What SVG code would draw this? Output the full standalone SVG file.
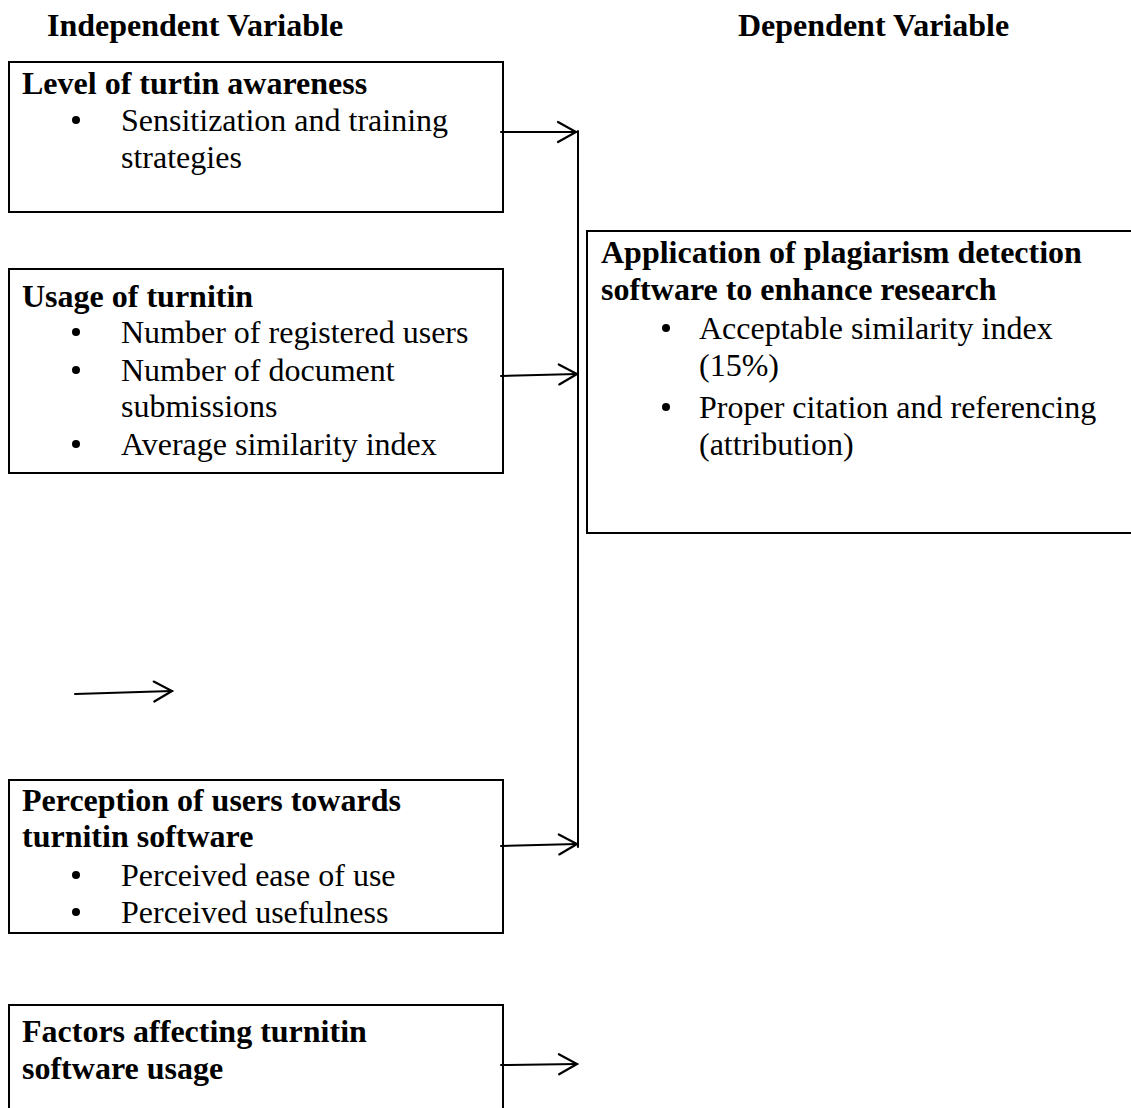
<svg xmlns="http://www.w3.org/2000/svg" width="1131" height="1108" viewBox="0 0 1131 1108">
<style>
text{font-family:"Liberation Serif","Times New Roman",serif;font-size:32px;fill:#000}
.b{font-weight:bold}
.box{fill:none;stroke:#000;stroke-width:2}
.ln{fill:none;stroke:#000;stroke-width:2;stroke-linecap:round}
.dot{fill:#000}
</style>
<defs>
<marker id="ah" markerWidth="24" markerHeight="24" refX="20" refY="12" orient="auto" markerUnits="userSpaceOnUse">
<path d="M2,2 L20,12 L2,22" fill="none" stroke="#000" stroke-width="2.2" stroke-linecap="round"/>
</marker>
</defs>
<rect width="1131" height="1108" fill="#fff"/>
<g id="headers">
<text class="b" x="47" y="36">Independent Variable</text>
<text class="b" x="738" y="36">Dependent Variable</text>
</g>
<g id="node-awareness">
<rect class="box" x="9" y="62" width="494" height="150"/>
<text class="b" x="22" y="94">Level of turtin awareness</text>
<circle class="dot" cx="76" cy="120" r="4"/>
<text x="121" y="131">Sensitization and training</text>
<text x="121" y="168">strategies</text>
</g>
<g id="node-usage">
<rect class="box" x="9" y="269" width="494" height="204"/>
<text class="b" x="22" y="307">Usage of turnitin</text>
<circle class="dot" cx="76" cy="332" r="4"/>
<text x="121" y="343">Number of registered users</text>
<circle class="dot" cx="76" cy="370" r="4"/>
<text x="121" y="381">Number of document</text>
<text x="121" y="417">submissions</text>
<circle class="dot" cx="76" cy="444" r="4"/>
<text x="121" y="455">Average similarity index</text>
</g>
<g id="node-application">
<rect class="box" x="587" y="231" width="560" height="302"/>
<text class="b" x="601" y="263">Application of plagiarism detection</text>
<text class="b" x="601" y="300">software to enhance research</text>
<circle class="dot" cx="666" cy="328" r="4"/>
<text x="699" y="339">Acceptable similarity index</text>
<text x="699" y="376">(15%)</text>
<circle class="dot" cx="666" cy="407" r="4"/>
<text x="699" y="418">Proper citation and referencing</text>
<text x="699" y="455">(attribution)</text>
</g>
<g id="node-perception">
<rect class="box" x="9" y="780" width="494" height="153"/>
<text class="b" x="22" y="811">Perception of users towards</text>
<text class="b" x="22" y="847">turnitin software</text>
<circle class="dot" cx="76" cy="875" r="4"/>
<text x="121" y="886">Perceived ease of use</text>
<circle class="dot" cx="76" cy="912" r="4"/>
<text x="121" y="923">Perceived usefulness</text>
</g>
<g id="node-factors">
<rect class="box" x="9" y="1005" width="494" height="120"/>
<text class="b" x="22" y="1042">Factors affecting turnitin</text>
<text class="b" x="22" y="1079">software usage</text>
</g>
<g id="connectors">
<line class="ln" x1="578" y1="131" x2="578" y2="847"/>
<line class="ln" x1="501" y1="132" x2="576" y2="132" marker-end="url(#ah)"/>
<line class="ln" x1="501" y1="376" x2="577" y2="374" marker-end="url(#ah)"/>
<line class="ln" x1="501" y1="846" x2="577" y2="844" marker-end="url(#ah)"/>
<line class="ln" x1="75" y1="694" x2="172" y2="691" marker-end="url(#ah)"/>
<line class="ln" x1="501" y1="1065" x2="577" y2="1064" marker-end="url(#ah)"/>
</g>
</svg>
